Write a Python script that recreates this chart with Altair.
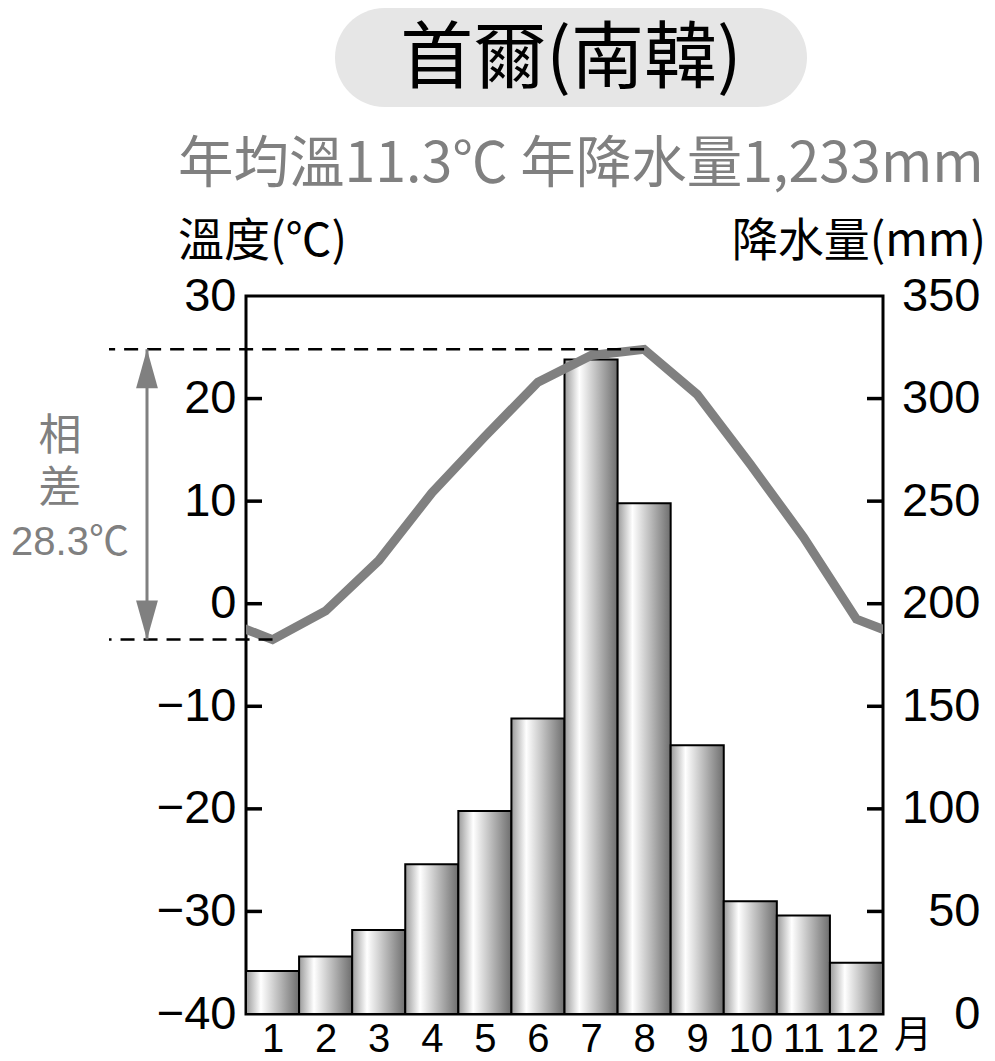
import altair as alt
import pandas as pd

# ---- data ----
months = list(range(1, 13))
temps = [-3.5, -0.7, 4.2, 10.8, 16.3, 21.6, 24.2, 24.8, 20.4, 13.6, 6.5, -1.5]
precip = [21, 28, 41, 73, 99, 144, 319, 249, 131, 55, 48, 25]
temp_ticks = [-40, -30, -20, -10, 0, 10, 20, 30]
precip_ticks = [0, 50, 100, 150, 200, 250, 300, 350]
inner_temp_ticks = [-30, -20, -10, 0, 10, 20]

title_text = "首爾(南韓)"
subtitle_text = "年均溫11.3℃ 年降水量1,233mm"
left_title = "溫度(℃)"
right_title = "降水量(mm)"
range_chars = ["相", "差"]
range_value = "28.3℃"
month_unit = "月"

W, H = 637, 718
CJK = "Noto Sans CJK TC"
NUM = "Liberation Sans"
GRAY = "#808080"

bars_df = pd.DataFrame({"m": months, "p": precip})
line_df = pd.DataFrame({
    "m": [0] + months + [13],
    "t": [temps[-1]] + temps + [temps[0]],
})
imax = temps.index(max(temps))
imin = temps.index(min(temps))
ext_df = pd.DataFrame({"m": [months[imax], months[imin]], "t": [temps[imax], temps[imin]]})
rng_df = pd.DataFrame({"tmax": [temps[imax]], "tmin": [temps[imin]]})
one = pd.DataFrame({"k": [0]})


def xs():
    return alt.Scale(domain=[0.5, 12.5], nice=False, zero=False)


def ts():
    return alt.Scale(domain=[-40, 30], nice=False, zero=False)


pscale = alt.Scale(domain=[0, 350], nice=False, zero=False)


def xaxis():
    return alt.Axis(values=months, title=None, ticks=False, tickSize=0, domain=False, grid=False,
                    labelFont="Liberation Sans Narrow, Liberation Sans", labelFontSize=40,
                    labelPadding=5, labelColor="black")


paxis = alt.Axis(orient="right", values=precip_ticks, title=None, ticks=False, tickSize=0,
                 domain=False, grid=False, labelFont=NUM, labelFontSize=47, labelPadding=97,
                 labelColor="black", labelAlign="right")
taxis = alt.Axis(orient="left", values=temp_ticks, title=None, ticks=False, tickSize=0,
                 domain=False, grid=False, labelFont=NUM, labelFontSize=47, labelPadding=10,
                 labelColor="black", labelAlign="right")

grad = alt.Gradient(
    gradient="linear",
    stops=[alt.GradientStop(offset=0, color="#9a9a9a"),
           alt.GradientStop(offset=0.28, color="#ffffff"),
           alt.GradientStop(offset=1, color="#6e6e6e")],
    x1=0, x2=1, y1=0, y2=0,
)

bars = alt.Chart(bars_df).transform_calculate(
    x0="datum.m - 0.5", x1="datum.m + 0.5"
).mark_rect(fill=grad, stroke="black", strokeWidth=2).encode(
    x=alt.X("x0:Q", scale=xs(), axis=xaxis()),
    x2="x1:Q",
    y=alt.Y("p:Q", scale=pscale, axis=paxis),
    y2=alt.datum(0),
)

line = alt.Chart(line_df).mark_line(stroke=GRAY, strokeWidth=9, clip=True).encode(
    x=alt.X("m:Q", scale=xs(), axis=xaxis()),
    y=alt.Y("t:Q", scale=ts(), axis=taxis),
)

tick_df = pd.DataFrame({"t": inner_temp_ticks})
ticks_left = alt.Chart(tick_df).mark_rule(stroke="black", strokeWidth=3.5).encode(
    y=alt.Y("t:Q", scale=ts(), axis=None), x=alt.value(0), x2=alt.value(16))
ticks_right = alt.Chart(tick_df).mark_rule(stroke="black", strokeWidth=3.5).encode(
    y=alt.Y("t:Q", scale=ts(), axis=None), x=alt.value(W), x2=alt.value(W - 16))

dashed = alt.Chart(ext_df).mark_rule(stroke="black", strokeWidth=2.5, strokeDash=[14, 9]).encode(
    x=alt.X("m:Q", scale=xs(), axis=xaxis()),
    x2=alt.value(-137),
    y=alt.Y("t:Q", scale=ts(), axis=None),
)

shaft = alt.Chart(rng_df).mark_rule(stroke=GRAY, strokeWidth=3).encode(
    x=alt.value(-99),
    y=alt.Y("tmax:Q", scale=ts(), axis=None),
    y2="tmin:Q",
)
head_up = alt.Chart(rng_df).mark_point(
    shape="M0,0L0.28,1L-0.28,1Z", filled=True, fill=GRAY, strokeWidth=0, size=6084, opacity=1
).encode(x=alt.value(-99), y=alt.Y("tmax:Q", scale=ts(), axis=None))
head_down = alt.Chart(rng_df).mark_point(
    shape="M0,0L0.28,-1L-0.28,-1Z", filled=True, fill=GRAY, strokeWidth=0, size=6084, opacity=1
).encode(x=alt.value(-99), y=alt.Y("tmin:Q", scale=ts(), axis=None))

pill = alt.Chart(one).mark_rect(fill="#e6e6e6", cornerRadius=50).encode(
    x=alt.value(89), x2=alt.value(561), y=alt.value(-288), y2=alt.value(-189))


def txt(s, x, y, size, color="black", align="center", font=CJK, **kw):
    return alt.Chart(one).mark_text(
        text=s, font=font, fontSize=size, color=color, align=align, baseline="middle", **kw
    ).encode(x=alt.value(x), y=alt.value(y))


texts = [
    txt(title_text, 325, -236, 73),
    txt(subtitle_text, -68, -131, 55.5, GRAY, "left"),
    txt(left_title, -68, -54, 46, "black", "left"),
    txt(right_title, 740, -54, 46, "black", "right"),
    txt(range_chars, -186, 141, 43, GRAY, lineHeight=52),
    txt(range_value, -176, 247, 40, GRAY, "center", NUM + ", " + CJK),
    txt(month_unit, 667, 740, 38),
]

chart = alt.layer(
    bars, line, ticks_left, ticks_right, dashed, shaft, head_up, head_down, pill, *texts
).resolve_scale(y="independent").properties(
    width=W, height=H,
    autosize=alt.AutoSizeParams(type="none"),
    padding={"left": 238, "top": 288, "right": 104, "bottom": 45},
    background="white",
).configure_view(stroke="black", strokeWidth=3)

chart.save("out.html", embed_options={"renderer": "svg", "actions": False})
